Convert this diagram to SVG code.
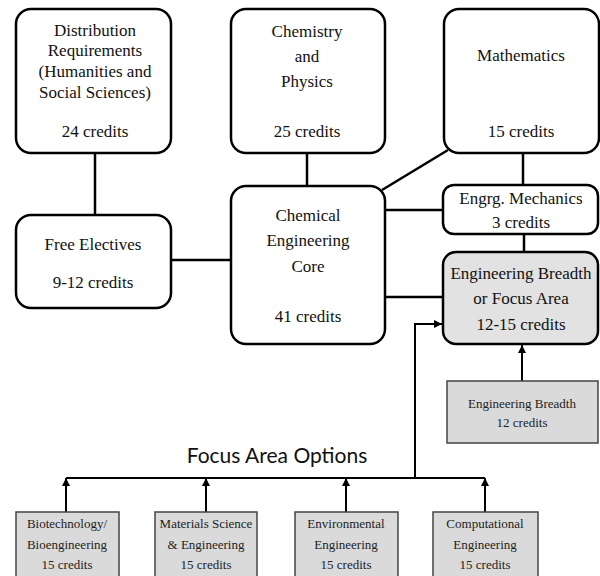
<svg xmlns="http://www.w3.org/2000/svg" width="600" height="576" viewBox="0 0 600 576">
<defs>
<style>
.box{fill:#fff;stroke:#000;stroke-width:2.5}
.gbox{fill:#e2e2e2;stroke:#000;stroke-width:2.5}
.sbox{fill:#dadada;stroke:#444;stroke-width:1.5}
.t{font-size:17px;fill:#111;text-anchor:middle}
.s{font-size:13px;fill:#222;text-anchor:middle}
.ln{stroke:#000;stroke-width:2.5;fill:none}
.ar{stroke:#000;stroke-width:2;fill:none}
</style>
<marker id="ah" viewBox="0 0 10 10" refX="10" refY="5" markerWidth="4" markerHeight="4" orient="auto" markerUnits="strokeWidth">
<path d="M0,0 L10,5 L0,10 z" fill="#000"/>
</marker>
</defs>
<rect width="600" height="576" fill="#fff"/>
<g id="connectors">
<line class="ln" x1="95" y1="153" x2="95" y2="215"/>
<line class="ln" x1="171" y1="260" x2="231" y2="260"/>
<line class="ln" x1="307" y1="153" x2="307" y2="186"/>
<line class="ln" x1="448" y1="150" x2="382" y2="190"/>
<line class="ln" x1="523" y1="153" x2="523" y2="185"/>
<line class="ln" x1="385" y1="210" x2="443" y2="210"/>
<line class="ln" x1="524" y1="234" x2="524" y2="252"/>
<line class="ln" x1="385" y1="297" x2="443" y2="297"/>
<polyline class="ar" points="415,478 415,324 442,324" marker-end="url(#ah)"/>
<line class="ar" x1="522" y1="381" x2="522" y2="345" marker-end="url(#ah)"/>
<line class="ar" x1="66" y1="478" x2="485" y2="478"/>
<line class="ar" x1="66" y1="512" x2="66" y2="478" marker-end="url(#ah)"/>
<line class="ar" x1="206" y1="512" x2="206" y2="478" marker-end="url(#ah)"/>
<line class="ar" x1="346" y1="512" x2="346" y2="478" marker-end="url(#ah)"/>
<line class="ar" x1="485" y1="512" x2="485" y2="478" marker-end="url(#ah)"/>
</g>
<g font-family="'Liberation Serif', 'DejaVu Serif', serif">
<g id="distribution">
<rect class="box" x="16" y="9" width="155" height="144" rx="15"/>
<text class="t" x="95" y="36">Distribution</text>
<text class="t" x="95" y="56">Requirements</text>
<text class="t" x="95" y="77">(Humanities and</text>
<text class="t" x="95" y="98">Social Sciences)</text>
<text class="t" x="95" y="137">24 credits</text>
</g>
<g id="chemphys">
<rect class="box" x="231" y="9" width="154" height="144" rx="15"/>
<text class="t" x="307" y="37">Chemistry</text>
<text class="t" x="307" y="62">and</text>
<text class="t" x="307" y="87">Physics</text>
<text class="t" x="307" y="137">25 credits</text>
</g>
<g id="math">
<rect class="box" x="444" y="9" width="155" height="144" rx="15"/>
<text class="t" x="521" y="61">Mathematics</text>
<text class="t" x="521" y="137">15 credits</text>
</g>
<g id="free">
<rect class="box" x="16" y="215" width="155" height="93" rx="15"/>
<text class="t" x="93" y="250">Free Electives</text>
<text class="t" x="93" y="288">9-12 credits</text>
</g>
<g id="core">
<rect class="box" x="231" y="186" width="154" height="158" rx="15"/>
<text class="t" x="308" y="221">Chemical</text>
<text class="t" x="308" y="246">Engineering</text>
<text class="t" x="308" y="272">Core</text>
<text class="t" x="308" y="322">41 credits</text>
</g>
<g id="mech">
<rect class="box" x="443" y="185" width="155" height="49" rx="11"/>
<text class="t" x="521" y="204">Engrg. Mechanics</text>
<text class="t" x="521" y="228">3 credits</text>
</g>
<g id="breadthfocus">
<rect class="gbox" x="443" y="252" width="155" height="92" rx="13"/>
<text class="t" x="521" y="279">Engineering Breadth</text>
<text class="t" x="521" y="304">or Focus Area</text>
<text class="t" x="521" y="330">12-15 credits</text>
</g>
<g id="breadth">
<rect class="sbox" x="447" y="381" width="151" height="62"/>
<text class="s" x="522" y="408">Engineering Breadth</text>
<text class="s" x="522" y="427">12 credits</text>
</g>
<g id="biotech">
<rect class="sbox" x="16" y="512" width="103" height="66"/>
<text class="s" x="67" y="528">Biotechnology/</text>
<text class="s" x="67" y="549">Bioengineering</text>
<text class="s" x="67" y="569">15 credits</text>
</g>
<g id="materials">
<rect class="sbox" x="155" y="512" width="102" height="66"/>
<text class="s" x="206" y="528">Materials Science</text>
<text class="s" x="206" y="549">&amp; Engineering</text>
<text class="s" x="206" y="569">15 credits</text>
</g>
<g id="environmental">
<rect class="sbox" x="295" y="512" width="103" height="66"/>
<text class="s" x="346" y="528">Environmental</text>
<text class="s" x="346" y="549">Engineering</text>
<text class="s" x="346" y="569">15 credits</text>
</g>
<g id="computational">
<rect class="sbox" x="433" y="512" width="105" height="66"/>
<text class="s" x="485" y="528">Computational</text>
<text class="s" x="485" y="549">Engineering</text>
<text class="s" x="485" y="569">15 credits</text>
</g>
</g>
<text x="277" y="463" font-family="Lato, 'Open Sans', sans-serif" font-size="21" fill="#111" text-anchor="middle">Focus Area Options</text>
</svg>
